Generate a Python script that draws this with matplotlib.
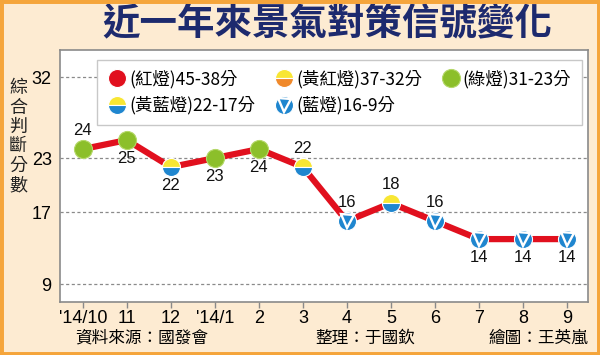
import matplotlib

matplotlib.use("Agg")
import matplotlib.pyplot as plt
from matplotlib.lines import Line2D
from matplotlib.legend_handler import HandlerTuple
from matplotlib.patches import Rectangle

plt.rcParams["font.family"] = ["Liberation Sans", "Noto Sans CJK TC", "DejaVu Sans"]
CJK = ["Noto Sans CJK TC", "DejaVu Sans"]

months = ["'14/10", "11", "12", "'14/1", "2", "3", "4", "5", "6", "7", "8", "9"]
scores = [24, 25, 22, 23, 24, 22, 16, 18, 16, 14, 14, 14]
lights = ["green", "green", "yb", "green", "green", "yb", "blue", "yb", "blue", "blue", "blue", "blue"]
label_side = [1, -1, -1, -1, -1, 1, 1, 1, 1, -1, -1, -1]
y_ticks = [9, 17, 23, 32]

legend_labels = {
    "red": "(紅燈)45-38分",
    "yr": "(黃紅燈)37-32分",
    "green": "(綠燈)31-23分",
    "yb": "(黃藍燈)22-17分",
    "blue": "(藍燈)16-9分",
}

RED = "#E1101E"
GREEN = "#8CBF2A"
YELLOW = "#F8E633"
BLUE = "#1F86CF"
ORANGE = "#F0892B"
NAVY = "#1D2A6E"
PEACH = "#FDEBD2"
GRID = "#8A8A8A"
MS = 13


def marker_handles(kind, ms=MS):
    base = dict(linestyle="none", markersize=ms, markeredgewidth=0.8)
    if kind == "red":
        return (Line2D([], [], marker="o", color=RED, markeredgecolor="white", **base),)
    if kind == "green":
        return (Line2D([], [], marker="o", color=GREEN, markeredgecolor="#B5D86A", **base),)
    if kind == "yr":
        return (Line2D([], [], marker="o", fillstyle="top", markerfacecolor=YELLOW,
                       markerfacecoloralt=ORANGE, markeredgecolor="white", **base),)
    if kind == "yb":
        return (Line2D([], [], marker="o", fillstyle="top", markerfacecolor=YELLOW,
                       markerfacecoloralt=BLUE, markeredgecolor="white", **base),)
    circle = Line2D([], [], marker="o", color=BLUE, markeredgecolor="white", **base)
    tri = Line2D([], [], marker="v", linestyle="none", markersize=ms * 0.72,
                 markerfacecolor=BLUE, markeredgecolor="white", markeredgewidth=1.7)
    return (circle, tri)


fig = plt.figure(figsize=(6.0, 3.55), dpi=100)
fig.patch.set_facecolor(PEACH)
fig.patches.append(Rectangle((0, 0), 1, 1, transform=fig.transFigure, fill=False,
                             edgecolor="#F5A53B", linewidth=5, zorder=10))

ax = fig.add_axes([0.1, 0.149, 0.88, 0.71])
ax.set_facecolor("white")
x = list(range(len(months)))

for yv in y_ticks:
    ax.axhline(yv, color=GRID, linestyle=(0, (2.5, 2)), linewidth=0.9, zorder=1)

ax.plot(x, scores, color=RED, linewidth=4.5, zorder=2, solid_capstyle="butt")

for xi, yv, kind, side in zip(x, scores, lights, label_side):
    for h in marker_handles(kind):
        ax.plot([xi], [yv], marker=h.get_marker(), linestyle="none",
                markersize=h.get_markersize(), fillstyle=h.get_fillstyle(),
                markerfacecolor=h.get_markerfacecolor(),
                markerfacecoloralt=h.get_markerfacecoloralt(),
                markeredgecolor=h.get_markeredgecolor(),
                markeredgewidth=h.get_markeredgewidth(), zorder=3)
    ax.annotate(str(yv), (xi, yv), xytext=(0, 13.5 * side), textcoords="offset points",
                ha="center", va="center", fontsize=12, color="#111111")

ax.set_xlim(-0.52, 11.48)
ax.set_ylim(7, 35)
ax.set_xticks(x)
ax.set_xticklabels(months, fontsize=13)
ax.set_yticks(y_ticks)
ax.set_yticklabels([str(v) for v in y_ticks], fontsize=13)
ax.tick_params(axis="x", length=4, width=1, color=GRID, pad=2)
ax.tick_params(axis="y", length=0, pad=6)
for spine in ax.spines.values():
    spine.set_color(GRID)
    spine.set_linewidth(1.2)

order = ["red", "yb", "yr", "blue", "green"]
leg = ax.legend([marker_handles(k, ms=13) for k in order], [legend_labels[k] for k in order],
                handler_map={tuple: HandlerTuple(ndivide=1, pad=0)},
                ncol=3, loc="upper left", bbox_to_anchor=(0.07, 0.962), borderaxespad=0,
                prop={"family": CJK, "size": 12.5}, frameon=True, fancybox=False,
                edgecolor="#C8C8C8", framealpha=1, handlelength=1.1, handletextpad=0.15,
                columnspacing=1.1, labelspacing=0.45, borderpad=0.6)
leg.get_frame().set_linewidth(1)
leg.set_zorder(5)

fig.text(0.545, 0.932, "近一年來景氣對策信號變化", ha="center", va="center",
         fontsize=27, fontweight="bold", color=NAVY, family=CJK)
fig.text(0.03, 0.615, "\n".join("綜合判斷分數"), ha="center", va="center",
         fontsize=13, linespacing=1.1, color="#222222", family=CJK)
fig.text(0.125, 0.048, "資料來源：國發會", ha="left", va="center", fontsize=12, family=CJK)
fig.text(0.525, 0.048, "整理：于國欽", ha="left", va="center", fontsize=12, family=CJK)
fig.text(0.98, 0.048, "繪圖：王英嵐", ha="right", va="center", fontsize=12, family=CJK)

fig.savefig("out.png", dpi=100, facecolor=fig.get_facecolor())
